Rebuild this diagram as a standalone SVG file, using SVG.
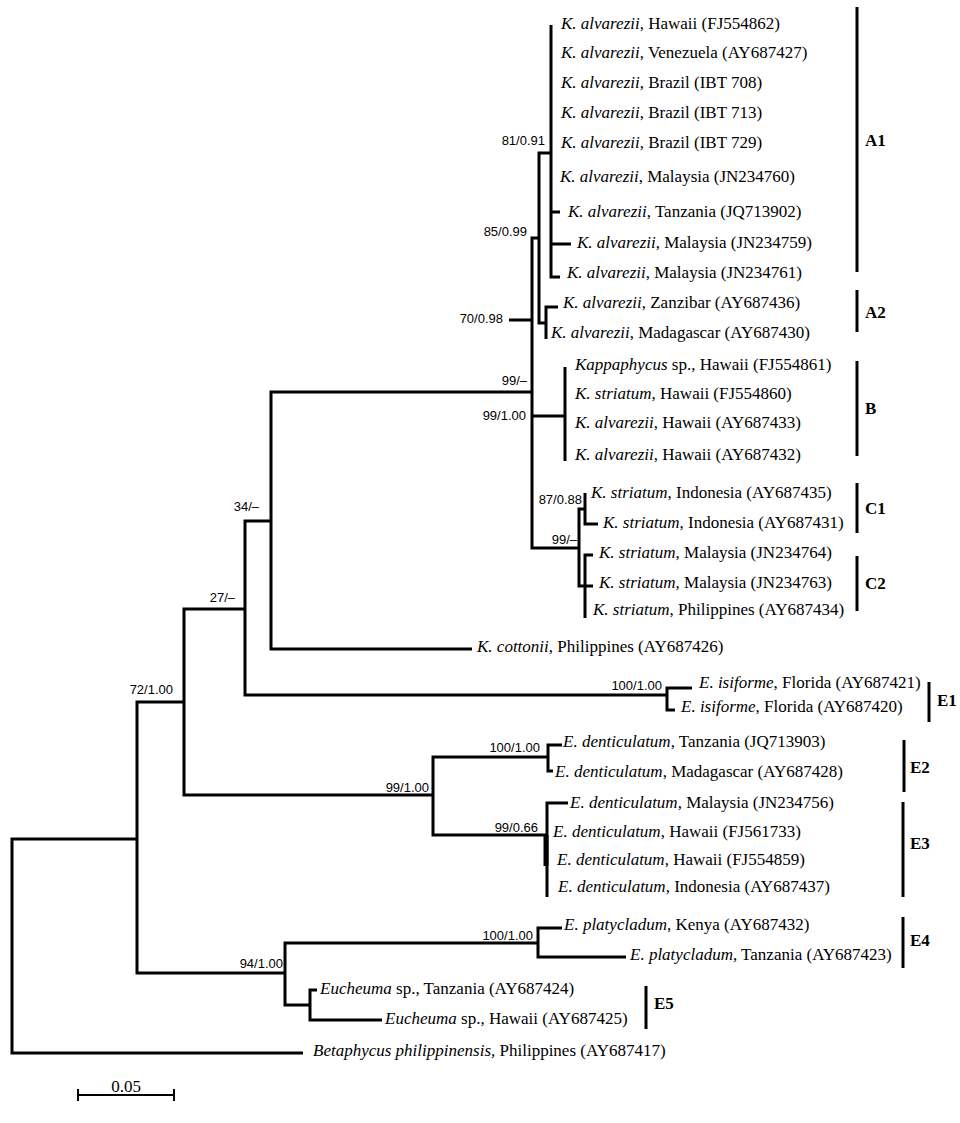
<svg xmlns="http://www.w3.org/2000/svg" width="960" height="1123" viewBox="0 0 960 1123">
<style>
.br{fill:none;stroke:#000;stroke-width:3;stroke-linejoin:miter}
.bar{stroke:#000;stroke-width:3}
.tx{font-family:"Liberation Serif","Times New Roman",serif;font-size:17px;fill:#000}
.i{font-style:italic}
.bs{font-family:"Liberation Sans",Arial,sans-serif;font-size:13px;fill:#000;text-anchor:end}
.cl{font-family:"Liberation Serif","Times New Roman",serif;font-size:17px;font-weight:bold;fill:#000}
</style>
<rect width="960" height="1123" fill="#fff"/>
<g id="connectors">
<path class="br" d="M137,839 H12 V1053 H303"/>
<path class="br" d="M184,702 H137 V973 H285"/>
<path class="br" d="M245,609 H184 V795 H433"/>
<path class="br" d="M271,521 H245 V695 H667"/>
<path class="br" d="M532,392 H271 V649 H472"/>
<path class="br" d="M539,238 H532 V548 H579 M532,416 H565"/>
<path class="br" d="M551,153 H539 V323 H546"/>
<path class="br" d="M560,277 H551 V25 M551,212 H560 M551,244 H571"/>
<path class="br" d="M558,307 H546 V339"/>
<path class="br" d="M565,367 V461"/>
<path class="br" d="M585,509 H579 V586 H585"/>
<path class="br" d="M585,493 V524 H598"/>
<path class="br" d="M593,555 H585 V618 M585,586 H593"/>
<path class="br" d="M509,320 H532"/>
<path class="br" d="M692,688 H667 V710 H675"/>
<path class="br" d="M548,757 H433 V835 H547"/>
<path class="br" d="M562,745 H548 V771 H553"/>
<path class="br" d="M568,803 H547 V897"/>
<path class="br" d="M546,835 V866" style="stroke-width:5"/>
<path class="br" d="M538,943 H285 V1005 H310"/>
<path class="br" d="M562,928 H538 V957 H626"/>
<path class="br" d="M317,990 H310 V1020 H382"/>
</g>
<g id="support">
<text class="bs" x="545" y="145">81/0.91</text>
<text class="bs" x="527" y="236">85/0.99</text>
<text class="bs" x="503" y="323">70/0.98</text>
<text class="bs" x="527" y="385">99/–</text>
<text class="bs" x="526" y="420">99/1.00</text>
<text class="bs" x="582" y="504">87/0.88</text>
<text class="bs" x="577" y="544">99/–</text>
<text class="bs" x="259" y="511">34/–</text>
<text class="bs" x="235" y="602">27/–</text>
<text class="bs" x="173" y="694">72/1.00</text>
<text class="bs" x="662" y="690">100/1.00</text>
<text class="bs" x="540" y="752">100/1.00</text>
<text class="bs" x="429" y="792">99/1.00</text>
<text class="bs" x="538" y="832">99/0.66</text>
<text class="bs" x="533" y="940">100/1.00</text>
<text class="bs" x="283" y="968">94/1.00</text>
</g>
<g id="t1"><text class="tx" x="561" y="28.5"><tspan class="i">K. alvarezii</tspan>, Hawaii (FJ554862)</text></g>
<g id="t2"><text class="tx" x="561" y="58"><tspan class="i">K. alvarezii</tspan>, Venezuela (AY687427)</text></g>
<g id="t3"><text class="tx" x="561" y="88"><tspan class="i">K. alvarezii</tspan>, Brazil (IBT 708)</text></g>
<g id="t4"><text class="tx" x="561" y="118"><tspan class="i">K. alvarezii</tspan>, Brazil (IBT 713)</text></g>
<g id="t5"><text class="tx" x="561" y="148"><tspan class="i">K. alvarezii</tspan>, Brazil (IBT 729)</text></g>
<g id="t6"><text class="tx" x="560" y="182"><tspan class="i">K. alvarezii</tspan>, Malaysia (JN234760)</text></g>
<g id="t7"><text class="tx" x="568" y="217"><tspan class="i">K. alvarezii</tspan>, Tanzania (JQ713902)</text></g>
<g id="t8"><text class="tx" x="577" y="248"><tspan class="i">K. alvarezii</tspan>, Malaysia (JN234759)</text></g>
<g id="t9"><text class="tx" x="567" y="278"><tspan class="i">K. alvarezii</tspan>, Malaysia (JN234761)</text></g>
<g id="t10"><text class="tx" x="563" y="308"><tspan class="i">K. alvarezii</tspan>, Zanzibar (AY687436)</text></g>
<g id="t11"><text class="tx" x="551" y="338"><tspan class="i">K. alvarezii</tspan>, Madagascar (AY687430)</text></g>
<g id="t12"><text class="tx" x="575" y="370"><tspan class="i">Kappaphycus</tspan> sp., Hawaii (FJ554861)</text></g>
<g id="t13"><text class="tx" x="575" y="399"><tspan class="i">K. striatum</tspan>, Hawaii (FJ554860)</text></g>
<g id="t14"><text class="tx" x="575" y="428"><tspan class="i">K. alvarezii</tspan>, Hawaii (AY687433)</text></g>
<g id="t15"><text class="tx" x="575" y="460"><tspan class="i">K. alvarezii</tspan>, Hawaii (AY687432)</text></g>
<g id="t16"><text class="tx" x="591" y="498"><tspan class="i">K. striatum</tspan>, Indonesia (AY687435)</text></g>
<g id="t17"><text class="tx" x="603" y="528"><tspan class="i">K. striatum</tspan>, Indonesia (AY687431)</text></g>
<g id="t18"><text class="tx" x="599" y="558"><tspan class="i">K. striatum</tspan>, Malaysia (JN234764)</text></g>
<g id="t19"><text class="tx" x="599" y="588"><tspan class="i">K. striatum</tspan>, Malaysia (JN234763)</text></g>
<g id="t20"><text class="tx" x="593" y="615"><tspan class="i">K. striatum</tspan>, Philippines (AY687434)</text></g>
<g id="t21"><text class="tx" x="477" y="652"><tspan class="i">K. cottonii</tspan>, Philippines (AY687426)</text></g>
<g id="t22"><text class="tx" x="699" y="688"><tspan class="i">E. isiforme</tspan>, Florida (AY687421)</text></g>
<g id="t23"><text class="tx" x="681" y="712"><tspan class="i">E. isiforme</tspan>, Florida (AY687420)</text></g>
<g id="t24"><text class="tx" x="563" y="747"><tspan class="i">E. denticulatum</tspan>, Tanzania (JQ713903)</text></g>
<g id="t25"><text class="tx" x="555" y="777"><tspan class="i">E. denticulatum</tspan>, Madagascar (AY687428)</text></g>
<g id="t26"><text class="tx" x="570" y="808"><tspan class="i">E. denticulatum</tspan>, Malaysia (JN234756)</text></g>
<g id="t27"><text class="tx" x="553" y="837"><tspan class="i">E. denticulatum</tspan>, Hawaii (FJ561733)</text></g>
<g id="t28"><text class="tx" x="557" y="865"><tspan class="i">E. denticulatum</tspan>, Hawaii (FJ554859)</text></g>
<g id="t29"><text class="tx" x="558" y="892"><tspan class="i">E. denticulatum</tspan>, Indonesia (AY687437)</text></g>
<g id="t30"><text class="tx" x="564" y="930"><tspan class="i">E. platycladum</tspan>, Kenya (AY687432)</text></g>
<g id="t31"><text class="tx" x="630" y="960"><tspan class="i">E. platycladum</tspan>, Tanzania (AY687423)</text></g>
<g id="t32"><text class="tx" x="320" y="994"><tspan class="i">Eucheuma</tspan> sp., Tanzania (AY687424)</text></g>
<g id="t33"><text class="tx" x="385" y="1024"><tspan class="i">Eucheuma</tspan> sp., Hawaii (AY687425)</text></g>
<g id="t34"><text class="tx" x="313" y="1056"><tspan class="i">Betaphycus philippinensis,</tspan> Philippines (AY687417)</text></g>
<g id="clades">
<line class="bar" x1="857" y1="7" x2="857" y2="272"/><text class="cl" x="865" y="146">A1</text>
<line class="bar" x1="857" y1="290" x2="857" y2="332"/><text class="cl" x="865" y="318">A2</text>
<line class="bar" x1="857" y1="361" x2="857" y2="456"/><text class="cl" x="865" y="414">B</text>
<line class="bar" x1="857" y1="483" x2="857" y2="533"/><text class="cl" x="865" y="514">C1</text>
<line class="bar" x1="857" y1="556" x2="857" y2="611"/><text class="cl" x="865" y="589">C2</text>
<line class="bar" x1="929" y1="682" x2="929" y2="722"/><text class="cl" x="937" y="706">E1</text>
<line class="bar" x1="904" y1="740" x2="904" y2="792"/><text class="cl" x="910" y="773">E2</text>
<line class="bar" x1="903" y1="802" x2="903" y2="897"/><text class="cl" x="910" y="849">E3</text>
<line class="bar" x1="903" y1="917" x2="903" y2="968"/><text class="cl" x="910" y="946">E4</text>
<line class="bar" x1="646" y1="986" x2="646" y2="1029"/><text class="cl" x="654" y="1009">E5</text>
</g>
<g id="scale">
<path class="br" style="stroke-width:2" d="M78,1095 H174 M78,1089 V1101 M174,1089 V1101"/>
<text class="tx" x="126" y="1092" text-anchor="middle">0.05</text>
</g>
</svg>
